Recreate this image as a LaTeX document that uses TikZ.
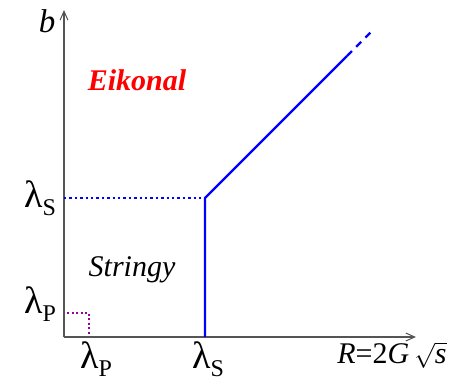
\documentclass[tikz,border=0pt]{standalone}
\usepackage{fontspec}
\setmainfont{Liberation Serif}
\usetikzlibrary{arrows.meta}
\definecolor{axisgray}{HTML}{555555}
\definecolor{lineblue}{HTML}{0000FF}
\definecolor{boxpurple}{HTML}{990099}
\tikzset{
  axis/.style={draw=axisgray, line width=1.3pt, -{Straight Barb[length=9pt,width=8pt,line width=1pt]}},
  bline/.style={draw=lineblue, line width=2.4pt},
  bdot/.style={draw=lineblue, line width=2.4pt, dash pattern=on 2.4pt off 3pt},
  bdash/.style={draw=lineblue, line width=2.4pt, dash pattern=on 7pt off 6pt},
  pbox/.style={draw=boxpurple, line width=1.6pt, dash pattern=on 2pt off 2.5pt},
  lam/.style={inner sep=0pt, font=\fontsize{38}{40}\selectfont},
  lbl/.style={inner sep=0pt, font=\fontsize{30}{32}\selectfont\itshape},
}
\newcommand{\lamsub}[1]{λ\raisebox{-8pt}{\fontsize{24}{26}\selectfont #1}}
\begin{document}
\begin{tikzpicture}[x=1pt,y=-1pt]
\useasboundingbox (0,0) rectangle (453,384);
\coordinate (O) at (64,337);
\coordinate (ytip) at (64,10);
\coordinate (xtip) at (416,337);
\coordinate (K) at (205,198);
\coordinate (Ky) at (64,198);
\coordinate (Kx) at (205,337);
\coordinate (D1) at (347,56);
\coordinate (D2) at (371,32);
\coordinate (P1) at (89,313);
\draw[pbox] (O) rectangle (P1);
\draw[axis] (O) -- (ytip);
\draw[axis] (O) -- (xtip);
\draw[bdot] (Ky) -- (K);
\draw[bline] (Kx) -- (K) -- (D1);
\draw[bdash] (D1) -- (D2);
\node[lbl, font=\fontsize{33}{35}\selectfont\itshape] (b) at (47,21) {b};
\node[lbl, font=\fontsize{30}{32}\selectfont\bfseries\itshape, text=red] (eik) at (137,80) {Eikonal};
\node[lbl] (str) at (132,270) {Stringy};
\node[lam] (ls) at (40,198) {\lamsub{S}};
\node[lam] (lp) at (40,304) {\lamsub{P}};
\node[lam] (lpx) at (96,359) {\lamsub{P}};
\node[lam] (lsx) at (208,359) {\lamsub{S}};
\node[lbl] (R) at (392,355) {R\upshape{}=2\itshape{}G\,$\sqrt{\mbox{\itshape s}}$};
\end{tikzpicture}
\end{document}
